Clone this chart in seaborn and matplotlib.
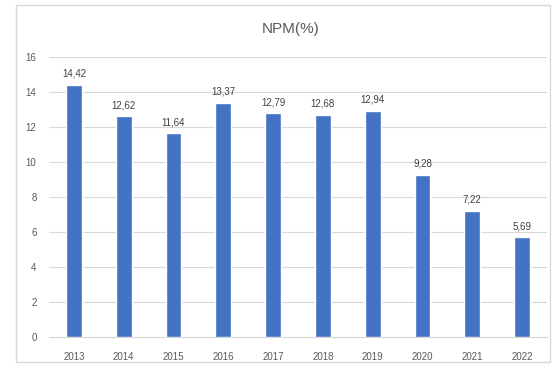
import matplotlib
matplotlib.use("Agg")
import matplotlib.pyplot as plt
import seaborn as sns
import pandas as pd
from matplotlib.patches import Rectangle

years = ["2013", "2014", "2015", "2016", "2017", "2018", "2019", "2020", "2021", "2022"]
npm = [14.42, 12.62, 11.64, 13.37, 12.79, 12.68, 12.94, 9.28, 7.22, 5.69]
y_ticks = [0, 2, 4, 6, 8, 10, 12, 14, 16]

df = pd.DataFrame({"year": years, "npm": npm})

sns.set_theme(style="white")
plt.rcParams["font.family"] = ["Liberation Sans", "DejaVu Sans"]

fig = plt.figure(figsize=(5.59, 3.67), dpi=100)
fig.patch.set_facecolor("white")
ax = fig.add_axes([0.0877, 0.0817, 0.8908, 0.763])

# chart frame
fig.patches.append(Rectangle((0.0286, 0.0136), 0.955, 0.973, transform=fig.transFigure,
                             fill=False, edgecolor="#d9d9d9", linewidth=1.0))

sns.barplot(data=df, x="year", y="npm", color="#4472C4", saturation=1,
            width=0.32, ax=ax, zorder=3)

ax.set_ylim(0, 16)
ax.set_yticks(y_ticks)
ax.set_yticklabels([str(t) for t in y_ticks])
ax.yaxis.grid(True, color="#d9d9d9", linewidth=0.8, zorder=0)
ax.set_axisbelow(True)
for s in ["top", "right", "left"]:
    ax.spines[s].set_visible(False)
ax.spines["bottom"].set_color("#d9d9d9")
ax.spines["bottom"].set_linewidth(0.8)
ax.set_xlabel("")
ax.set_ylabel("")
ax.tick_params(axis="both", length=0, labelsize=7, colors="#595959")
ax.tick_params(axis="x", pad=11)
ax.tick_params(axis="y", pad=9)

for i, v in enumerate(npm):
    ax.text(i, v + 0.35, f"{v:.2f}".replace(".", ","), ha="center", va="bottom",
            fontsize=7, color="#404040")

fig.text(0.52, 0.922, "NPM(%)", ha="center", va="center", fontsize=11, color="#595959")

fig.savefig("out.png", dpi=100)
